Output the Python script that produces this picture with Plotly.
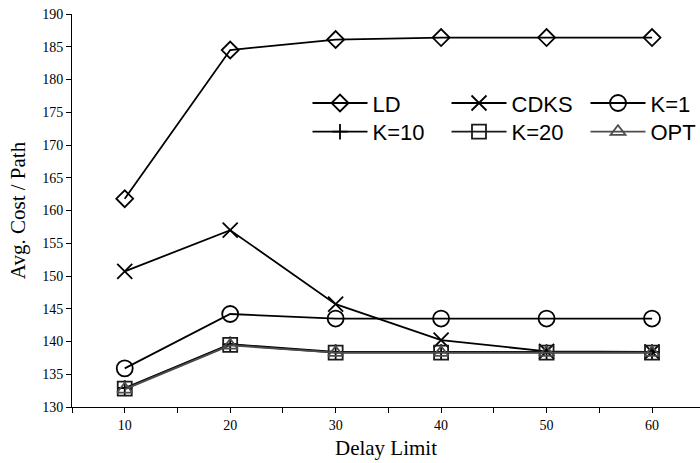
import plotly.graph_objects as go

delay = [10, 20, 30, 40, 50, 60]
ld = [161.8, 184.5, 186.1, 186.4, 186.4, 186.4]
cdks = [150.7, 157.0, 145.7, 140.2, 138.5, 138.4]
k1 = [135.9, 144.2, 143.5, 143.5, 143.5, 143.5]
k10 = [132.9, 139.6, 138.4, 138.4, 138.4, 138.4]
k20 = [132.8, 139.5, 138.3, 138.3, 138.3, 138.3]
opt = [132.7, 139.4, 138.3, 138.3, 138.3, 138.3]

series = [
    ("LD", ld, "diamond-open", 13, "#000000", "legend"),
    ("CDKS", cdks, "x-thin-open", 15, "#000000", "legend"),
    ("K=1", k1, "circle-open", 16, "#000000", "legend"),
    ("K=10", k10, "cross-thin-open", 11, "#000000", "legend2"),
    ("K=20", k20, "square-open", 14, "#1a1a1a", "legend2"),
    ("OPT", opt, "triangle-up-open", 13, "#4d4d4d", "legend2"),
]

fig = go.Figure()
for name, vals, sym, sz, col, lg in series:
    fig.add_trace(go.Scatter(
        x=delay, y=vals, name=name, mode="lines+markers",
        line=dict(color=col, width=1.8),
        marker=dict(symbol=sym, size=sz, color=col, line=dict(color=col, width=1.8)),
        legend=lg,
    ))

sans = "Arial, Liberation Sans, sans-serif"
serif = "Times New Roman, Liberation Serif, serif"
leg_common = dict(orientation="h", xanchor="left", yanchor="middle",
                  font=dict(family=sans, size=22, color="#000000"),
                  itemwidth=55, entrywidth=69, entrywidthmode="pixels",
                  bgcolor="rgba(0,0,0,0)", borderwidth=0, tracegroupgap=0)

fig.update_layout(
    width=700, height=463,
    margin=dict(l=72, r=0, t=14, b=56, autoexpand=False),
    paper_bgcolor="white", plot_bgcolor="white",
    showlegend=True,
    legend=dict(x=0.375, y=0.773, **leg_common),
    legend2=dict(x=0.375, y=0.700, **leg_common),
    xaxis=dict(
        range=[5, 64.55], tickmode="linear", tick0=0, dtick=10,
        ticks="outside", ticklen=5, tickcolor="#000000",
        minor=dict(dtick=5, tick0=0, ticks="outside", ticklen=5, tickcolor="#000000"),
        showline=True, linecolor="#000000", linewidth=1,
        showgrid=False, zeroline=False,
        tickfont=dict(family=serif, size=14, color="#000000"),
        title=dict(text="Delay Limit", font=dict(family=serif, size=21, color="#000000"), standoff=8),
    ),
    yaxis=dict(
        range=[130, 190], tickmode="linear", tick0=130, dtick=5,
        ticks="outside", ticklen=5, tickcolor="#000000",
        showline=True, linecolor="#000000", linewidth=1,
        showgrid=False, zeroline=False,
        tickfont=dict(family=serif, size=14, color="#000000"),
        title=dict(text="Avg. Cost / Path", font=dict(family=serif, size=21, color="#000000"), standoff=10),
    ),
)

fig.write_html("out.html")
